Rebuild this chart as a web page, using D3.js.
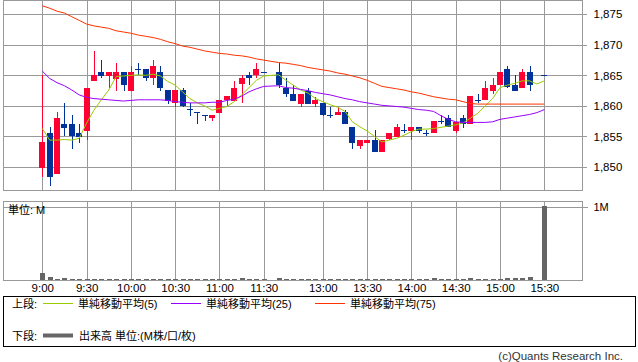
<!DOCTYPE html>
<html>
<head>
<meta charset="utf-8">
<script src="https://cdn.jsdelivr.net/npm/d3@7"></script>
<style>
body { margin: 0; background: #fff; }
svg { display: block; font-family: "Liberation Sans", "Noto Sans CJK JP", sans-serif; }
</style>
</head>
<body>
<div id="chart"></div>
<script>
var w = 638;
var h = 362;

// 5 minute slots, "12:25" is the empty slot between sessions
var times = ["9:00", "9:05", "9:10", "9:15", "9:20", "9:25", "9:30", "9:35", "9:40", "9:45",
    "9:50", "9:55", "10:00", "10:05", "10:10", "10:15", "10:20", "10:25", "10:30", "10:35",
    "10:40", "10:45", "10:50", "10:55", "11:00", "11:05", "11:10", "11:15", "11:20", "11:25",
    "11:30", "12:25", "12:30", "12:35", "12:40", "12:45", "12:50", "12:55", "13:00", "13:05",
    "13:10", "13:15", "13:20", "13:25", "13:30", "13:35", "13:40", "13:45", "13:50", "13:55",
    "14:00", "14:05", "14:10", "14:15", "14:20", "14:25", "14:30", "14:35", "14:40", "14:45",
    "14:50", "14:55", "15:00", "15:05", "15:10", "15:15", "15:20", "15:25", "15:30"];

var opens = [1849.9, 1855.6, 1848.9, 1857.0, 1857.0, 1855.6, 1856.0, 1864.0, 1865.6, 1865.0,
    1864.5, 1865.6, 1862.5, 1866.0, 1866.0, 1864.5, 1865.6, 1862.6, 1860.4, 1862.6,
    1859.5, 1859.0, 1858.5, 1858.0, 1858.9, 1860.9, 1860.9, 1863.5, 1865.0, 1865.0,
    1865.6, null, 1865.6, 1863.0, 1862.0, 1860.4, 1862.5, 1860.4, 1860.4, 1858.5,
    1858.5, 1859.0, 1856.6, 1853.5, 1854.0, 1854.5, 1852.5, 1854.5, 1855.0, 1856.0,
    1856.0, 1856.6, 1855.6, 1855.5, 1857.5, 1858.1, 1856.0, 1858.0, 1857.0, 1861.0,
    1861.0, 1862.5, 1863.5, 1866.0, 1863.5, 1863.0, 1865.6, null, 1865.0];
var highs = [1865.1, 1856.6, 1859.0, 1860.5, 1858.5, 1857.0, 1863.0, 1869.0, 1867.5, 1865.6,
    1867.0, 1865.6, 1866.5, 1867.0, 1866.0, 1867.5, 1866.5, 1862.6, 1862.6, 1863.0,
    1860.4, 1859.0, 1858.5, 1858.5, 1861.0, 1861.6, 1864.1, 1865.0, 1865.6, 1867.0,
    1865.6, null, 1867.0, 1864.5, 1863.5, 1862.0, 1863.0, 1861.5, 1860.4, 1859.9,
    1859.9, 1859.4, 1856.6, 1854.5, 1854.5, 1856.0, 1854.5, 1855.5, 1857.0, 1857.0,
    1856.6, 1856.6, 1856.0, 1857.5, 1858.5, 1858.5, 1857.4, 1858.5, 1861.6, 1862.0,
    1864.0, 1864.5, 1865.6, 1866.5, 1865.0, 1866.0, 1866.5, null, 1865.0];
var lows = [1848.4, 1846.9, 1848.9, 1855.0, 1853.0, 1854.0, 1854.5, 1864.0, 1864.5, 1863.0,
    1862.5, 1862.5, 1862.5, 1865.0, 1864.0, 1863.5, 1862.5, 1860.3, 1859.9, 1859.9,
    1858.4, 1857.0, 1857.5, 1857.5, 1858.9, 1860.0, 1860.9, 1860.4, 1863.5, 1864.5,
    1865.6, null, 1863.0, 1861.5, 1860.8, 1859.9, 1860.4, 1859.9, 1858.4, 1858.0,
    1858.5, 1857.0, 1853.0, 1853.0, 1854.0, 1852.5, 1852.5, 1854.5, 1855.0, 1855.5,
    1854.5, 1855.5, 1855.0, 1855.5, 1857.0, 1856.6, 1855.5, 1856.4, 1857.0, 1860.5,
    1861.0, 1862.0, 1863.5, 1863.0, 1862.5, 1863.0, 1862.5, null, 1865.0];
var closes = [1854.1, 1848.4, 1858.1, 1856.4, 1855.0, 1855.0, 1863.0, 1865.0, 1865.0, 1865.6,
    1865.6, 1863.5, 1865.6, 1866.0, 1864.5, 1866.5, 1863.0, 1860.8, 1862.6, 1859.9,
    1859.5, 1859.0, 1858.5, 1858.5, 1861.0, 1861.6, 1863.0, 1864.5, 1864.5, 1866.0,
    1865.6, null, 1863.5, 1862.0, 1860.8, 1862.0, 1860.4, 1861.0, 1858.4, 1858.5,
    1859.0, 1857.0, 1854.0, 1854.5, 1854.5, 1852.5, 1854.5, 1855.5, 1856.6, 1856.0,
    1856.6, 1856.0, 1855.6, 1857.5, 1857.5, 1856.6, 1857.4, 1857.0, 1861.6, 1861.0,
    1863.0, 1863.5, 1865.6, 1863.0, 1862.5, 1865.6, 1863.5, null, 1865.0];

// volume in M
var volumes = [0.09, 0.035, 0.014, 0.022, 0.014, 0.014, 0.014, 0.014, 0.014, 0.014,
    0.014, 0.014, 0.014, 0.014, 0.014, 0.014, 0.014, 0.014, 0.014, 0.014,
    0.014, 0.014, 0.014, 0.014, 0.014, 0.014, 0.014, 0.028, 0.014, 0.014,
    0.014, null, 0.028, 0.014, 0.014, 0.014, 0.014, 0.014, 0.014, 0.014,
    0.014, 0.014, 0.014, 0.014, 0.014, 0.014, 0.014, 0.014, 0.014, 0.014,
    0.014, 0.014, 0.014, 0.028, 0.014, 0.014, 0.014, 0.014, 0.028, 0.014,
    0.014, 0.014, 0.014, 0.03, 0.03, 0.03, 0.045, null, 1.0];

var ma5 = [1856.3, 1854.4, 1854.4, 1854.5, 1854.4, 1854.7, 1857.2, 1859.3, 1861.0, 1862.6,
    1864.8, 1864.9, 1865.0, 1865.1, 1865.0, 1865.2, 1864.9, 1864.0, 1863.4, 1862.3,
    1861.2, 1860.5, 1860.0, 1859.3, 1859.6, 1859.9, 1860.7, 1861.8, 1863.0, 1864.2,
    1864.9, null, 1865.1, 1864.2, 1863.4, 1862.6, 1862.1, 1861.2, 1860.7, 1860.2,
    1859.8, 1859.1, 1857.4, 1856.6, 1855.9, 1855.0, 1854.1, 1854.4, 1854.7, 1855.2,
    1855.8, 1856.2, 1856.2, 1856.3, 1856.5, 1856.7, 1856.9, 1857.2, 1858.0, 1858.8,
    1860.0, 1861.2, 1863.0, 1863.4, 1863.7, 1864.1, 1864.1, 1863.6, 1864.1];
var ma25 = [1865.7, 1864.5, 1863.8, 1863.3, 1862.6, 1861.8, 1861.4, 1861.2, 1861.1, 1861.0,
    1860.9, 1860.8, 1860.9, 1861.0, 1861.0, 1861.0, 1861.0, 1860.9, 1860.7, 1860.6,
    1860.5, 1860.5, 1860.5, 1860.6, 1860.6, 1860.9, 1861.1, 1861.6, 1862.3, 1862.8,
    1863.2, null, 1863.3, 1863.0, 1862.9, 1862.7, 1862.5, 1862.2, 1862.0, 1861.8,
    1861.5, 1861.2, 1861.0, 1860.7, 1860.5, 1860.3, 1860.1, 1860.0, 1859.9, 1859.8,
    1859.6, 1859.4, 1859.3, 1859.1, 1858.4, 1857.8, 1857.4, 1857.3, 1857.3, 1857.3,
    1857.3, 1857.4, 1857.8, 1858.0, 1858.2, 1858.4, 1858.6, 1858.9, 1859.4];
var ma75 = [1876.4, 1876.0, 1875.5, 1875.2, 1874.6, 1874.0, 1873.4, 1873.1, 1872.9, 1872.7,
    1872.3, 1872.1, 1871.9, 1871.6, 1871.4, 1871.2, 1870.9, 1870.5, 1870.2, 1869.8,
    1869.6, 1869.3, 1869.0, 1868.8, 1868.6, 1868.5, 1868.3, 1868.2, 1868.0, 1867.7,
    1867.5, null, 1867.1, 1867.0, 1866.8, 1866.6, 1866.3, 1866.1, 1865.9, 1865.7,
    1865.4, 1865.2, 1864.9, 1864.6, 1864.2, 1863.7, 1863.2, 1863.0, 1862.8, 1862.6,
    1862.3, 1862.1, 1861.8, 1861.5, 1861.3, 1861.1, 1861.0, 1860.7, 1860.4, 1860.3,
    1860.3, 1860.3, 1860.3, 1860.3, 1860.3, 1860.3, 1860.3, 1860.3, 1860.3];

var timeTicks = ["9:00", "9:30", "10:00", "10:30", "11:00", "11:30", "13:00", "13:30", "14:00", "14:30", "15:00", "15:30"];
var priceTicks = [1850, 1855, 1860, 1865, 1870, 1875];
var volumeTicks = [1];

var maSeries = [
    {name: "単純移動平均(5)", values: ma5, color: "#99cc00"},
    {name: "単純移動平均(25)", values: ma25, color: "#9900ff"},
    {name: "単純移動平均(75)", values: ma75, color: "#ff3300"}
];

var upColor = "#ff0033";
var downColor = "#003399";
var gridColor = "#999999";

var svg = d3.select("#chart")
    .append("svg")
    .attr("width", w)
    .attr("height", h);

// scales
var xScale = d3.scalePoint()
    .domain(times)
    .range([42.3, 544.3]);
var yScale = d3.scaleLinear()
    .domain([1850, 1875])
    .range([167, 14.3]);
var vScale = d3.scaleLinear()
    .domain([0, 1])
    .range([280.5, 206.5]);

function px(v) { return Math.round(v) + 0.5; }

var candles = times.map(function (t, i) {
    return {t: t, o: opens[i], hi: highs[i], lo: lows[i], c: closes[i], v: volumes[i]};
}).filter(function (d) { return d.o != null; });

// panel frames
var left = 3.5, right = 582.5;
svg.append("rect")
    .attr("x", left).attr("y", 0.5)
    .attr("width", right - left).attr("height", 190)
    .attr("fill", "none").attr("stroke", gridColor);
svg.append("rect")
    .attr("x", left).attr("y", 201.5)
    .attr("width", right - left).attr("height", 79)
    .attr("fill", "none").attr("stroke", gridColor);

// grid
var grid = svg.append("g")
    .attr("stroke", gridColor)
    .attr("shape-rendering", "crispEdges");
grid.selectAll(".hgrid")
    .data(priceTicks)
    .enter().append("line")
    .attr("x1", left).attr("x2", right)
    .attr("y1", function (d) { return px(yScale(d)); })
    .attr("y2", function (d) { return px(yScale(d)); });
grid.selectAll(".vgrid")
    .data(timeTicks)
    .enter().append("line")
    .attr("x1", function (d) { return px(xScale(d)); })
    .attr("x2", function (d) { return px(xScale(d)); })
    .attr("y1", 0.5).attr("y2", 190.5);
grid.selectAll(".vgrid2")
    .data(timeTicks)
    .enter().append("line")
    .attr("x1", function (d) { return px(xScale(d)); })
    .attr("x2", function (d) { return px(xScale(d)); })
    .attr("y1", 201.5).attr("y2", 280.5);
grid.selectAll(".vhgrid")
    .data(volumeTicks)
    .enter().append("line")
    .attr("x1", left).attr("x2", right)
    .attr("y1", function (d) { return px(vScale(d)); })
    .attr("y2", function (d) { return px(vScale(d)); });

// candles
var cg = svg.append("g").attr("shape-rendering", "crispEdges");
cg.selectAll(".wick")
    .data(candles)
    .enter().append("line")
    .attr("x1", function (d) { return px(xScale(d.t)); })
    .attr("x2", function (d) { return px(xScale(d.t)); })
    .attr("y1", function (d) { return yScale(d.hi); })
    .attr("y2", function (d) { return yScale(d.lo); })
    .attr("stroke", function (d) { return d.c > d.o ? upColor : downColor; });
cg.selectAll(".body")
    .data(candles)
    .enter().append("rect")
    .attr("x", function (d) { return Math.round(xScale(d.t)) - 3; })
    .attr("width", 6)
    .attr("y", function (d) { return Math.round(yScale(Math.max(d.o, d.c))); })
    .attr("height", function (d) { return Math.max(1, Math.round(Math.abs(yScale(d.o) - yScale(d.c)))); })
    .attr("fill", function (d) { return d.c > d.o ? upColor : downColor; });

// moving averages
maSeries.forEach(function (s) {
    var pts = times.map(function (t, i) { return [t, s.values[i]]; })
        .filter(function (p) { return p[1] != null; });
    var line = d3.line()
        .x(function (p) { return xScale(p[0]); })
        .y(function (p) { return yScale(p[1]); });
    svg.append("path")
        .datum(pts)
        .attr("d", line)
        .attr("fill", "none")
        .attr("stroke", s.color)
        .attr("stroke-width", 1);
});

// volume bars
svg.append("g")
    .attr("shape-rendering", "crispEdges")
    .selectAll("rect")
    .data(candles)
    .enter().append("rect")
    .attr("x", function (d) { return Math.round(xScale(d.t)) - 2; })
    .attr("width", 5)
    .attr("y", function (d) { return 280 - Math.max(1, Math.round(280.5 - vScale(d.v))); })
    .attr("height", function (d) { return Math.max(1, Math.round(280.5 - vScale(d.v))); })
    .attr("fill", "#666666");

// axes
var priceAxis = d3.axisRight(yScale)
    .tickValues(priceTicks)
    .tickFormat(d3.format(","))
    .tickSize(4)
    .tickPadding(7);
var pa = svg.append("g")
    .attr("transform", "translate(" + right + ",0)")
    .call(priceAxis);
var volAxis = d3.axisRight(vScale)
    .tickValues(volumeTicks)
    .tickFormat(function (d) { return d + "M"; })
    .tickSize(5)
    .tickPadding(6);
var va = svg.append("g")
    .attr("transform", "translate(" + right + ",0)")
    .call(volAxis);
var timeAxis = d3.axisBottom(xScale)
    .tickValues(timeTicks)
    .tickSize(0)
    .tickPadding(3.3);
var ta = svg.append("g")
    .attr("transform", "translate(0,280.5)")
    .call(timeAxis);

[pa, va, ta].forEach(function (g) {
    g.select(".domain").remove();
    g.selectAll("line").attr("stroke", gridColor).attr("shape-rendering", "crispEdges");
    g.selectAll("text")
        .attr("fill", "#000")
        .style("font-family", "'Liberation Sans', 'Noto Sans CJK JP', sans-serif")
        .style("font-size", "11.5px");
});
va.selectAll("text").style("font-size", "11px");

svg.append("text")
    .attr("x", 8).attr("y", 214)
    .style("font-size", "11px")
    .text("単位: M");

// legend
var lg = svg.append("g").style("font-size", "11px");
lg.append("rect")
    .attr("x", 3.5).attr("y", 296.5)
    .attr("width", 632).attr("height", 50)
    .attr("fill", "none").attr("stroke", "#000");
lg.append("text").attr("x", 12).attr("y", 308).text("上段:");
var legendX = [43, 171, 315];
maSeries.forEach(function (s, i) {
    lg.append("line")
        .attr("x1", legendX[i]).attr("x2", legendX[i] + 30)
        .attr("y1", 303.5).attr("y2", 303.5)
        .attr("stroke", s.color)
        .attr("shape-rendering", "crispEdges");
    lg.append("text")
        .attr("x", legendX[i] + 35).attr("y", 308)
        .text(s.name);
});
lg.append("text").attr("x", 12).attr("y", 340).text("下段:");
lg.append("line")
    .attr("x1", 43).attr("x2", 73)
    .attr("y1", 335.5).attr("y2", 335.5)
    .attr("stroke", "#666666")
    .attr("stroke-width", 4);
lg.append("text").attr("x", 79).attr("y", 340).text("出来高 単位:(M株/口/枚)");

svg.append("text")
    .attr("x", 623).attr("y", 359.5)
    .attr("text-anchor", "end")
    .style("font-size", "11.5px")
    .attr("fill", "#333")
    .text("(c)Quants Research Inc.");
</script>
</body>
</html>
